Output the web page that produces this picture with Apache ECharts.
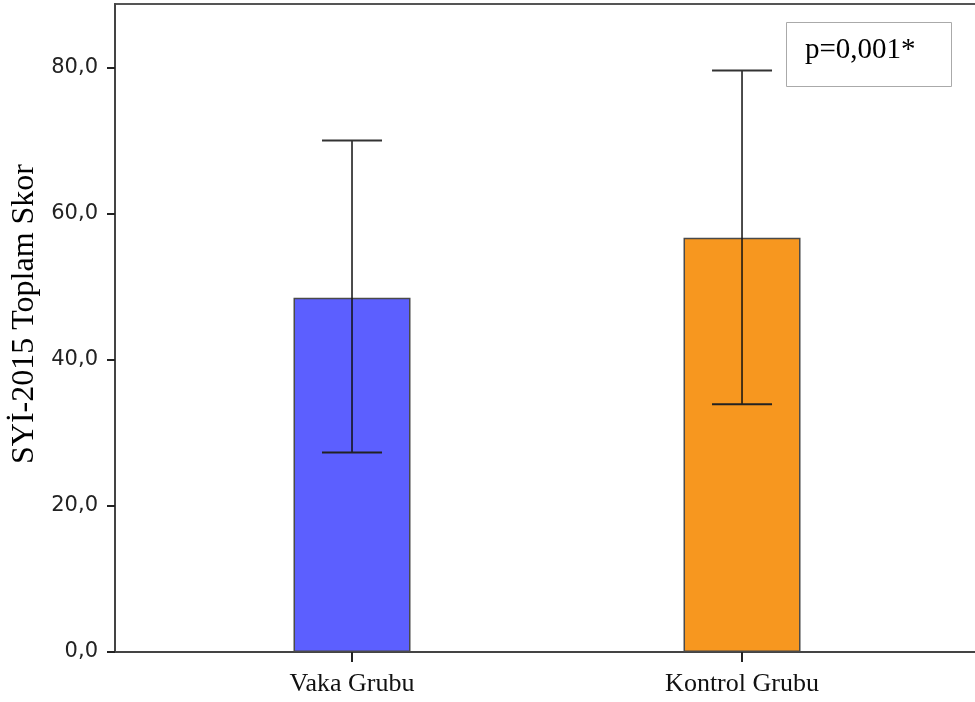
<!DOCTYPE html>
<html>
<head>
<meta charset="utf-8">
<script src="https://cdn.jsdelivr.net/npm/echarts@6/dist/echarts.min.js"></script>
<style>html,body{margin:0;padding:0;background:#fff}#c{width:975px;height:702px}</style>
</head>
<body>
<div id="c"></div>
<script>
const categories = ["Vaka Grubu", "Kontrol Grubu"];
const means = [48.5, 56.7];
const lowerErr = [27.3, 33.9];
const upperErr = [70.0, 79.6];
const yTicks = [0, 20, 40, 60, 80];
const barColors = ["#5c5fff", "#f7971f"];
const annotation = "p=0,001*";

const pos = categories.map((c, i) => i + 1);
const chart = echarts.init(document.getElementById('c'));
chart.setOption({
  animation: false,
  grid: { left: 115, right: -10, top: 4, bottom: 50, outerBoundsMode: 'none', containLabel: false,
    show: true, borderColor: '#555', borderWidth: 2, backgroundColor: 'transparent' },
  xAxis: {
    type: 'value', min: 0.3923, max: 2.623,
    axisLine: { show: true, lineStyle: { color: '#444', width: 2 } },
    axisTick: { show: true, customValues: pos, length: 10, inside: false, lineStyle: { color: '#222', width: 2 } },
    axisLabel: { show: true, customValues: pos, margin: 19, formatter: v => categories[Math.round(v) - 1] || '',
      fontFamily: 'Liberation Serif', fontSize: 26, color: '#111' },
    splitLine: { show: false }
  },
  yAxis: {
    type: 'value', min: 0, max: 88.7,
    name: 'SYİ-2015 Toplam Skor', nameLocation: 'middle', nameRotate: 90, nameGap: 74,
    nameTextStyle: { fontFamily: 'Liberation Serif', fontSize: 32, color: '#000', padding: [0, 0, 0, 28] },
    axisLine: { show: true, lineStyle: { color: '#444', width: 2 } },
    axisTick: { show: true, customValues: yTicks, length: 8, lineStyle: { color: '#222', width: 2 } },
    axisLabel: { customValues: yTicks, margin: 17, formatter: v => v.toFixed(1).replace('.', ','),
      fontFamily: 'DejaVu Sans', fontSize: 21, color: '#222' },
    splitLine: { show: false }
  },
  series: [
    {
      type: 'bar', barWidth: 117,
      data: pos.map((p, i) => ({ value: [p, means[i]], itemStyle: { color: barColors[i] } })),
      itemStyle: { borderColor: '#4a4a4a', borderWidth: 1.5 }
    },
    {
      type: 'custom', z: 10,
      data: pos.map((p, i) => [p, lowerErr[i], upperErr[i]]),
      renderItem: function (params, api) {
        const x = api.value(0);
        const lo = api.coord([x, api.value(1)]);
        const hi = api.coord([x, api.value(2)]);
        const hw = 30;
        const st = { stroke: '#111', lineWidth: 1.5 };
        return { type: 'group', children: [
          { type: 'line', shape: { x1: lo[0], y1: lo[1], x2: hi[0], y2: hi[1] }, style: st },
          { type: 'line', shape: { x1: lo[0] - hw, y1: lo[1], x2: lo[0] + hw, y2: lo[1] }, style: { stroke: '#222', lineWidth: 2 } },
          { type: 'line', shape: { x1: hi[0] - hw, y1: hi[1], x2: hi[0] + hw, y2: hi[1] }, style: { stroke: '#333', lineWidth: 2 } }
        ]};
      }
    }
  ],
  graphic: [
    { type: 'rect', left: 786, top: 22, shape: { width: 165, height: 64 }, style: { fill: '#fff', stroke: '#aaa', lineWidth: 1 }, z: 20 },
    { type: 'text', left: 805, top: 36, style: { text: annotation, font: '29px "Liberation Serif"', fill: '#000' }, z: 21 }
  ]
});
</script>
</body>
</html>
